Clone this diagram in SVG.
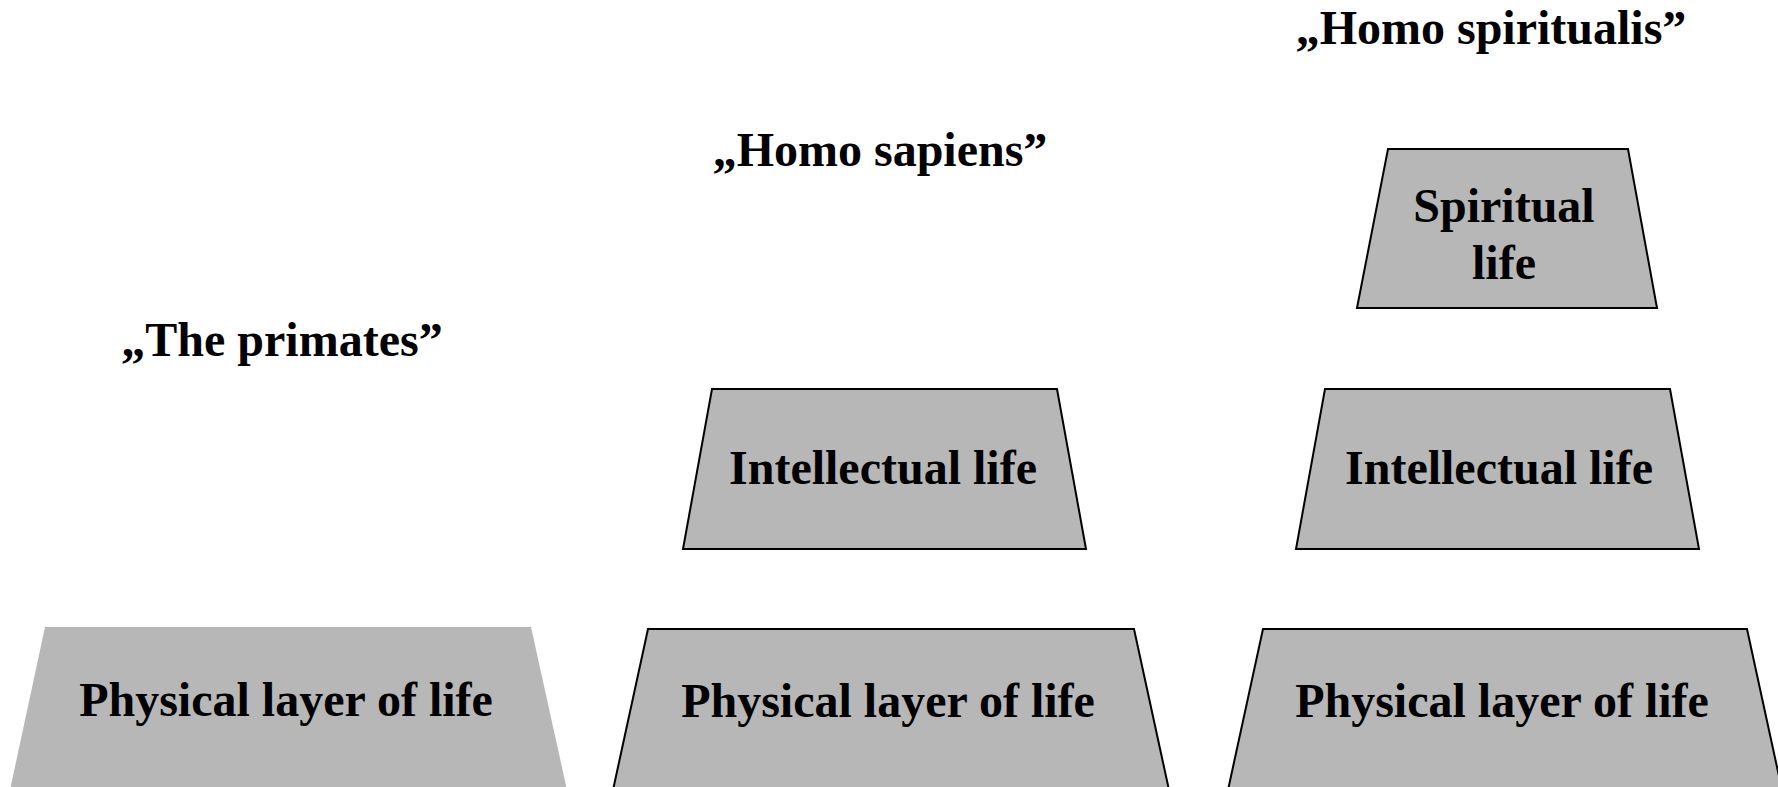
<svg xmlns="http://www.w3.org/2000/svg" width="1778" height="787" viewBox="0 0 1778 787">
  <style>
    .layer { fill: #b7b7b7; stroke: #000000; stroke-width: 2; stroke-linejoin: miter; }
    .layer.plain { stroke: none; }
    .label { font-family: "Liberation Serif", "Times New Roman", serif; font-weight: bold; font-size: 48px; fill: #000000; text-anchor: middle; }
  </style>
  <rect width="1778" height="787" fill="#ffffff"/>

  <!-- column headings -->
  <g id="title-primates">
    <text class="label" x="282" y="356">„The primates”</text>
  </g>
  <g id="title-sapiens">
    <text class="label" x="880" y="166">„Homo sapiens”</text>
  </g>
  <g id="title-spiritualis">
    <text class="label" x="1491" y="44">„Homo spiritualis”</text>
  </g>

  <!-- primates column -->
  <g id="primates-physical">
    <polygon class="layer plain" points="45,627 531,627 567,790 10,790"/>
    <text class="label" x="286" y="716">Physical layer of life</text>
  </g>

  <!-- homo sapiens column -->
  <g id="sapiens-intellectual">
    <polygon class="layer" points="712,389 1057,389 1086,549 683,549"/>
    <text class="label" x="883" y="484">Intellectual life</text>
  </g>
  <g id="sapiens-physical">
    <polygon class="layer" points="648,629 1134,629 1169,790 613,790"/>
    <text class="label" x="888" y="717">Physical layer of life</text>
  </g>

  <!-- homo spiritualis column -->
  <g id="spiritualis-spiritual">
    <polygon class="layer" points="1388,149 1628,149 1657,308 1357,308"/>
    <text class="label" x="1504" y="222">Spiritual</text>
    <text class="label" x="1504" y="279">life</text>
  </g>
  <g id="spiritualis-intellectual">
    <polygon class="layer" points="1325,389 1670,389 1699,549 1296,549"/>
    <text class="label" x="1499" y="484">Intellectual life</text>
  </g>
  <g id="spiritualis-physical">
    <polygon class="layer" points="1263,629 1747,629 1782,790 1228,790"/>
    <text class="label" x="1502" y="717">Physical layer of life</text>
  </g>

  <g id="connectors"></g>
</svg>
